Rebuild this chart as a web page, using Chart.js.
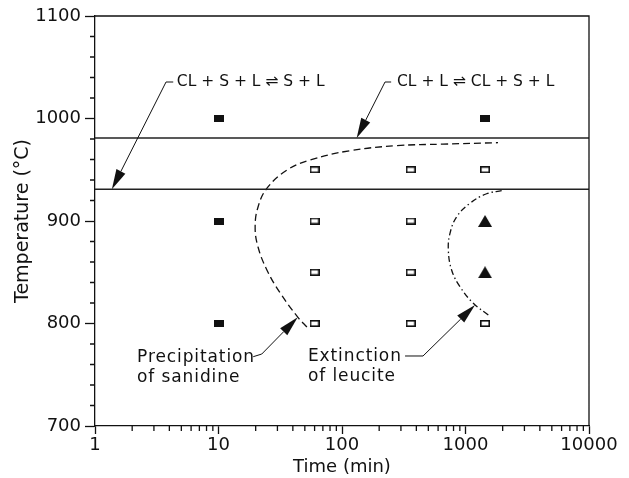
<!DOCTYPE html>
<html><head><meta charset="utf-8">
<script src="https://cdn.jsdelivr.net/npm/chart.js@4"></script>
<style>html,body{margin:0;padding:0;background:#fff}canvas{display:block}</style>
</head><body>
<canvas id="c" width="629" height="478"></canvas>
<script>
// ---- data ----
const xTicks = [1, 10, 100, 1000, 10000];
const yTicks = [700, 800, 900, 1000, 1100];
const filledSqTime = [10, 10, 10, 1440];
const filledSqTemp = [1000, 900, 800, 1000];
const openSqTime = [60, 360, 1440, 60, 360, 60, 360, 60, 360, 1440];
const openSqTemp = [950, 950, 950, 900, 900, 850, 850, 800, 800, 800];
const triTime = [1440, 1440];
const triTemp = [900, 850];
const boundaryTemps = [981, 931];
const sanidineTime = [52, 44, 31.5, 24.7, 20.9, 19.8, 20.9, 24.7, 35.9, 55, 116, 279, 657, 1833];
const sanidineTemp = [796.6, 806, 830, 852, 874.6, 894, 913.7, 932, 949.8, 959.5, 968.6, 973.5, 975, 976.4];
const leuciteTime = [1963, 1483, 1087, 849, 749, 726, 773, 902, 1157, 1530];
const leuciteTemp = [929.6, 926.6, 917.3, 904.2, 888, 871.7, 852, 835.9, 819.7, 808.3];
const noteTexts = [["CL + S + L \u21CC S + L"], ["CL + L \u21CC CL + S + L"], ["Precipitation", "of sanidine"], ["Extinction", "of leucite"]];
const noteAnchors = [[4.6, 1035.6], [279, 1035.6], [2.19, 766.3], [53, 767.3]];
const notePaths = [
  [[4.3, 1035.6], [3.76, 1035.6], [1.37, 931]],
  [[250, 1035.6], [223, 1035.6], [131.5, 981]],
  [[19.1, 767.6], [22.4, 770.2], [43.8, 806]],
  [[324, 768.3], [453, 768.3], [1194, 818]]
];

const pts = (xs, ys) => xs.map((x, i) => ({x: x, y: ys[i]}));
const INK = '#111';
const FONT = '"DejaVu Sans", sans-serif';

function marker(w, h, draw) {
  const c = document.createElement('canvas');
  c.width = w; c.height = h;
  const g = c.getContext('2d');
  draw(g, w, h);
  return c;
}
const filledSq = marker(10, 7, (g, w, h) => { g.fillStyle = INK; g.fillRect(0, 0, w, h); });
const openSq = marker(10, 7, (g, w, h) => { g.strokeStyle = INK; g.lineWidth = 1.6; g.strokeRect(0.8, 0.8, w - 1.6, h - 1.6); });
const tri = marker(14, 12, (g, w, h) => { g.fillStyle = INK; g.beginPath(); g.moveTo(w / 2, 0); g.lineTo(w, h); g.lineTo(0, h); g.closePath(); g.fill(); });

const frame = {
  id: 'frame',
  afterDraw(chart) {
    const {ctx, chartArea: a, scales: {x, y}} = chart;
    ctx.save();
    ctx.strokeStyle = INK;
    ctx.lineWidth = 1.3;
    ctx.beginPath();
    ctx.moveTo(a.left, a.top); ctx.lineTo(a.right, a.top); ctx.lineTo(a.right, a.bottom);
    // minor ticks
    for (let d = 1; d < 10000; d *= 10) {
      for (let k = 2; k <= 9; k++) {
        const px = x.getPixelForValue(k * d);
        ctx.moveTo(px, a.bottom); ctx.lineTo(px, a.bottom + 5);
      }
    }
    for (let v = 720; v < 1100; v += 20) {
      if (v % 100 === 0) continue;
      const py = y.getPixelForValue(v);
      ctx.moveTo(a.left - 5, py); ctx.lineTo(a.left, py);
    }
    ctx.stroke();

    // annotations
    ctx.lineWidth = 1;
    ctx.fillStyle = INK;
    notePaths.forEach((path, i) => {
      const p = path.map(([vx, vy]) => [x.getPixelForValue(vx), y.getPixelForValue(vy)]);
      const [tx, ty] = p[p.length - 1];
      const [sx, sy] = p[p.length - 2];
      const ang = Math.atan2(ty - sy, tx - sx);
      const L = 20, W = 5;
      const bx = tx - L * Math.cos(ang), by = ty - L * Math.sin(ang);
      ctx.beginPath();
      ctx.moveTo(p[0][0], p[0][1]);
      for (let j = 1; j < p.length - 1; j++) ctx.lineTo(p[j][0], p[j][1]);
      ctx.lineTo(bx, by);
      ctx.stroke();
      ctx.beginPath();
      ctx.moveTo(tx, ty);
      ctx.lineTo(bx + W * Math.sin(ang), by - W * Math.cos(ang));
      ctx.lineTo(bx - W * Math.sin(ang), by + W * Math.cos(ang));
      ctx.closePath();
      ctx.fill();

      const [ax, ay] = noteAnchors[i];
      const px = x.getPixelForValue(ax), py = y.getPixelForValue(ay);
      ctx.font = (i < 2 ? '15.5px ' : '17px ') + FONT;
      if ('letterSpacing' in ctx) ctx.letterSpacing = i < 2 ? '0px' : '0.9px';
      ctx.textAlign = 'left';
      ctx.textBaseline = 'middle';
      noteTexts[i].forEach((t, k) => ctx.fillText(t, px, py + k * 19.5));
    });
    if ('letterSpacing' in ctx) ctx.letterSpacing = '0px';
    ctx.restore();
  }
};

new Chart(document.getElementById('c'), {
  type: 'scatter',
  data: {
    datasets: [
      {label: 'upper', data: pts([1, 10000], [boundaryTemps[0], boundaryTemps[0]]), showLine: true, borderColor: '#222', borderWidth: 1.5, pointRadius: 0},
      {label: 'lower', data: pts([1, 10000], [boundaryTemps[1], boundaryTemps[1]]), showLine: true, borderColor: '#222', borderWidth: 1.5, pointRadius: 0},
      {label: 'sanidine', data: pts(sanidineTime, sanidineTemp), showLine: true, borderColor: INK, borderWidth: 1.3, borderDash: [7, 4], pointRadius: 0, tension: 0.4},
      {label: 'leucite', data: pts(leuciteTime, leuciteTemp), showLine: true, borderColor: INK, borderWidth: 1.3, borderDash: [6, 3, 1.5, 3], pointRadius: 0, tension: 0.4},
      {label: 'filled', data: pts(filledSqTime, filledSqTemp), pointStyle: filledSq, pointRadius: 5},
      {label: 'open', data: pts(openSqTime, openSqTemp), pointStyle: openSq, pointRadius: 5},
      {label: 'triangle', data: pts(triTime, triTemp), pointStyle: tri, pointRadius: 7}
    ]
  },
  options: {
    responsive: false,
    animation: false,
    devicePixelRatio: 1,
    layout: {padding: {top: 16, right: 40, left: 0, bottom: 0}},
    plugins: {legend: {display: false}, tooltip: {enabled: false}},
    scales: {
      x: {
        type: 'logarithmic', min: 1, max: 10000,
        afterBuildTicks: s => { s.ticks = xTicks.map(v => ({value: v})); },
        afterFit: s => { s.height = 52; },
        ticks: {callback: v => String(v), color: INK, font: {family: FONT, size: 18}, padding: 1, maxRotation: 0, autoSkip: false},
        grid: {drawOnChartArea: false, tickLength: 8, tickColor: INK, tickWidth: 1.3},
        border: {color: INK, width: 1.3},
        title: {display: true, text: 'Time (min)', color: INK, font: {family: FONT, size: 18}, padding: {top: 0, bottom: 0}}
      },
      y: {
        min: 700, max: 1100,
        afterBuildTicks: s => { s.ticks = yTicks.map(v => ({value: v})); },
        afterFit: s => { s.width = 95; },
        ticks: {callback: v => String(v), color: INK, font: {family: FONT, size: 18}, padding: 4},
        grid: {drawOnChartArea: false, tickLength: 10, tickColor: INK, tickWidth: 1.3},
        border: {color: INK, width: 1.3},
        title: {display: true, text: 'Temperature (\u00B0C)', color: INK, font: {family: FONT, size: 19}, padding: {top: 12, bottom: 0}}
      }
    }
  },
  plugins: [frame]
});
</script>
</body></html>
